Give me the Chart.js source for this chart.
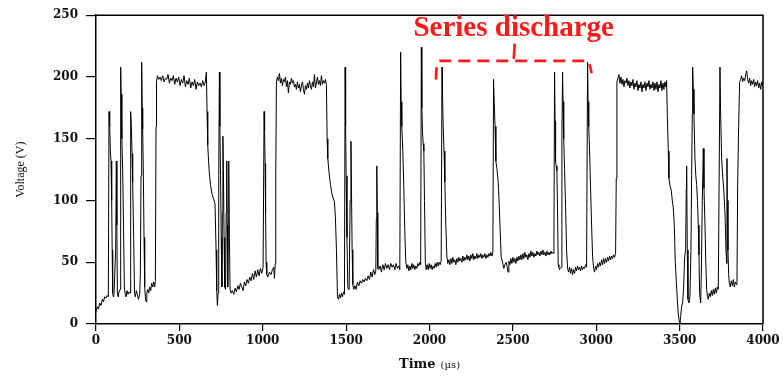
<!DOCTYPE html>
<html>
<head>
<meta charset="utf-8">
<script src="https://cdn.jsdelivr.net/npm/chart.js@4"></script>
<style>
  body { margin: 0; background: #fff; }
  canvas { display: block; }
</style>
</head>
<body>
<canvas id="trace" width="783" height="376"></canvas>
<script>
// Tick values for both axes
const timeTicks = [0, 500, 1000, 1500, 2000, 2500, 3000, 3500, 4000];
const voltTicks = [0, 50, 100, 150, 200, 250];

// Voltage trace: [time in us, voltage in V]
const samples = [
    [0,10],[8,14],[15,12],[22,17],[30,15],[38,20],[45,18],[52,22],[60,21],[68,23],[74,22],
    [78,172],[82,160],[86,140],[90,132],[94,100],[97,60],[100,25],[104,22],[108,24],
    [112,24],[118,60],[122,132],[125,80],[128,25],[133,22],[138,26],[144,28],
    [148,208],[151,186],[155,150],[160,125],[165,80],[170,30],[174,25],[180,22],[186,27],[192,24],[198,26],[204,25],
    [208,172],[212,160],[216,138],[220,115],[226,70],[231,25],[236,22],[242,27],[248,24],[255,20],[262,24],
    [266,40],[270,120],[274,212],[277,175],[280,158],[284,120],[288,70],[292,30],[296,22],[300,18],[305,25],[310,28],
    [316,25],[322,30],[328,27],[334,33],[340,30],[346,34],[352,30],[356,35],
    [360,160],[363,196],
    [368,201],[376,198],[384,200],[392,197],[400,201],[408,196],[416,199],[424,198],[432,202],[440,195],
    [448,199],[456,197],[464,201],[472,194],[480,199],[488,196],[496,200],[504,193],[512,198],[520,195],
    [528,201],[536,192],[544,197],[552,194],[560,199],[568,191],[576,196],[584,193],[592,198],[600,190],
    [608,196],[616,193],[624,195],[632,192],[640,197],[648,193],[656,196],[662,204],
    [666,172],[670,145],[678,125],[686,113],[696,105],[706,101],[714,97],[720,60],[724,27],[728,15],[732,25],
    [736,120],[740,204],[743,160],[747,120],[751,70],[755,30],[758,90],[761,152],[764,125],[768,70],[772,30],
    [777,28],[781,90],[784,132],[787,80],[790,30],[793,70],[796,132],[800,70],[804,28],[810,25],
    [818,27],[826,24],[834,29],[842,26],[850,31],[858,28],[866,33],[874,30],[882,27],[890,34],[898,31],
    [906,36],[914,33],[922,38],[930,35],[938,41],[946,36],[954,43],[962,38],[970,44],[978,39],[986,45],[994,41],[1002,46],
    [1008,172],[1011,157],[1014,130],[1017,90],[1020,50],[1024,40],[1030,38],[1040,42],[1050,40],[1058,44],[1066,46],
    [1070,37],[1075,49],[1078,120],[1082,196],
    [1088,200],[1094,197],[1100,203],[1106,195],[1112,199],[1118,193],[1124,198],[1130,196],[1136,200],[1142,192],
    [1148,197],[1154,187],[1160,196],[1166,194],[1172,199],[1178,195],[1184,197],[1190,192],[1196,194],[1202,190],
    [1208,196],[1214,191],[1220,194],[1226,188],[1232,193],[1238,196],[1244,190],[1250,186],[1256,193],[1262,190],
    [1268,195],[1274,191],[1280,197],[1286,193],[1292,190],[1298,196],[1304,192],[1310,202],[1316,191],[1322,195],
    [1328,200],[1334,194],[1340,197],[1346,193],[1352,201],[1358,194],[1364,197],[1370,195],[1376,198],[1382,193],
    [1386,150],[1390,134],[1398,122],[1406,113],[1414,106],[1422,102],[1430,99],[1436,85],[1442,60],[1448,22],
    [1454,20],[1460,24],[1466,21],[1472,25],[1478,22],[1484,26],[1490,24],
    [1494,208],[1497,160],[1500,120],[1505,70],[1510,30],[1514,28],[1518,28],[1524,100],[1529,148],[1532,110],
    [1536,60],[1540,32],[1546,28],[1552,31],[1560,28],[1568,34],[1576,31],[1584,35],[1592,33],[1600,36],
    [1608,34],[1616,37],[1624,35],[1632,39],[1640,36],[1648,42],[1656,38],[1664,44],[1672,40],[1678,43],
    [1681,85],[1684,128],[1687,90],[1690,45],[1696,44],
    [1704,47],[1712,42],[1720,48],[1728,44],[1736,49],[1744,45],[1752,48],[1760,44],[1768,49],[1776,46],
    [1784,48],[1792,44],[1800,49],[1808,45],[1816,47],[1822,44],
    [1827,220],[1830,180],[1834,160],[1840,140],[1846,110],[1852,75],[1858,50],[1864,45],[1870,48],[1876,43],
    [1882,47],[1888,44],[1894,49],[1900,45],[1906,48],[1912,44],[1918,47],[1924,45],[1930,49],[1936,47],[1942,50],[1947,48],
    [1951,224],[1954,175],[1958,156],[1962,146],[1966,140],[1970,100],[1975,50],[1980,44],[1986,48],[1992,44],
    [1998,49],[2004,45],[2010,48],[2016,44],[2022,47],[2028,45],[2034,49],[2040,46],[2046,50],[2052,47],
    [2058,50],[2064,48],[2070,51],
    [2075,208],[2078,186],[2082,160],[2087,140],[2092,115],[2098,80],[2104,55],[2110,49],
    [2116,52],[2122,48],[2128,53],[2134,49],[2140,54],[2146,50],[2152,52],[2158,48],[2164,53],[2170,50],
    [2176,54],[2182,51],[2188,53],[2194,50],[2200,55],[2206,51],[2212,54],[2218,52],[2224,56],[2230,52],
    [2236,55],[2242,51],[2248,56],[2254,53],[2260,57],[2266,52],[2272,55],[2278,53],[2284,57],[2290,53],
    [2296,56],[2302,54],[2308,57],[2314,53],[2320,56],[2326,54],[2332,57],[2338,53],[2344,56],[2350,54],
    [2356,57],[2362,55],[2368,58],[2374,55],[2380,58],
    [2384,198],[2388,180],[2393,160],[2398,132],[2404,126],[2410,118],[2414,110],[2418,97],[2424,75],[2430,54],
    [2438,50],[2446,45],[2452,48],[2460,50],[2466,46],[2471,42],[2476,51],[2482,48],[2488,53],[2494,49],
    [2500,54],[2506,50],[2512,53],[2518,49],[2524,54],[2530,51],[2536,55],[2542,52],[2548,56],[2554,52],
    [2560,57],[2566,53],[2572,58],[2578,54],[2584,56],[2590,52],[2596,57],[2602,54],[2608,59],[2614,55],
    [2620,58],[2626,54],[2632,57],[2638,55],[2644,59],[2650,56],[2656,58],[2662,55],[2668,59],[2674,56],
    [2680,60],[2686,56],[2692,58],[2698,55],[2704,59],[2710,56],[2716,58],[2722,56],[2728,59],[2734,57],
    [2740,58],[2746,57],
    [2750,204],[2753,164],[2756,132],[2760,128],[2764,124],[2768,90],[2772,48],[2776,46],[2780,44],[2784,45],
    [2790,46],[2794,150],[2798,204],[2801,180],[2805,150],[2810,125],[2816,95],[2822,60],[2828,45],[2834,42],
    [2840,46],[2846,41],[2852,45],[2858,40],[2864,44],[2870,41],[2876,46],[2882,43],[2888,47],[2894,44],
    [2900,46],[2906,43],[2912,47],[2918,44],[2924,46],[2930,45],[2936,48],[2942,46],
    [2948,212],[2951,180],[2955,160],[2960,140],[2966,110],[2972,80],[2978,55],[2984,45],[2990,42],[2996,47],
    [3002,44],[3008,49],[3014,46],[3020,50],[3026,47],[3032,52],[3038,48],[3044,53],[3050,49],[3056,53],
    [3062,50],[3068,54],[3074,51],[3080,55],[3086,52],[3092,55],[3098,53],[3104,56],[3110,54],[3116,57],
    [3120,118],[3124,196],
    [3130,199],[3136,202],[3142,195],[3148,200],[3154,194],[3160,198],[3166,192],[3172,197],[3178,195],[3184,199],
    [3190,193],[3196,197],[3202,191],[3208,196],[3214,193],[3220,198],[3226,190],[3232,195],[3238,192],[3244,197],
    [3250,189],[3256,194],[3262,191],[3268,196],[3274,188],[3280,194],[3286,191],[3292,196],[3298,189],[3304,195],
    [3310,192],[3316,197],[3322,190],[3328,194],[3334,191],[3340,196],[3346,189],[3352,195],[3358,190],[3364,196],
    [3370,188],[3376,194],[3382,191],[3388,197],[3394,189],[3400,195],[3406,190],[3412,196],[3418,192],[3422,197],
    [3426,170],[3432,140],[3436,118],[3442,112],[3450,108],[3456,100],[3462,94],[3468,80],[3474,50],[3480,35],
    [3486,20],[3492,8],[3498,2],[3502,1],[3506,6],[3512,14],[3518,17],[3524,30],[3530,54],[3536,60],
    [3540,110],[3542,128],[3546,60],[3550,20],[3556,17],[3562,22],[3568,60],[3572,120],[3576,170],[3578,208],
    [3582,190],[3586,170],[3592,134],[3597,120],[3602,113],[3607,100],[3612,80],[3616,56],[3620,25],[3626,17],
    [3630,40],[3636,100],[3642,142],[3646,110],[3652,80],[3657,50],[3662,28],[3667,22],[3672,20],[3678,25],
    [3684,22],[3690,27],[3696,23],[3702,28],[3708,24],[3714,29],[3720,25],[3726,30],[3732,28],
    [3742,208],[3746,170],[3752,134],[3758,120],[3764,110],[3772,90],[3778,60],[3782,49],[3784,134],[3786,100],
    [3790,60],[3794,40],[3798,33],[3804,30],[3810,35],[3816,31],[3822,36],[3828,30],[3834,34],[3840,32],[3844,35],
    [3848,113],[3854,160],[3860,196],
    [3866,198],[3872,201],[3878,196],[3884,199],[3890,197],[3896,202],[3902,205],[3908,198],[3914,195],[3920,199],
    [3926,193],[3932,197],[3938,194],[3944,198],[3950,192],[3956,196],[3962,193],[3968,197],[3974,191],[3980,195],
    [3986,190],[3992,196],[4000,192]
];

// Dashed bracket over the series discharge part: start, middle, end (us) and levels (V)
const bracketTimes = [2045, 2505, 2960];
const bracketVolts = { level: 213, leftEnd: 198, rightEnd: 203, top: 227 };
const annotationText = 'Series discharge';
const xTitle = ['Time', '(\u00b5s)'];
const yTitle = 'Voltage (V)';

const points = samples.map(s => ({ x: s[0], y: s[1] }));

// draws the box, axis titles and the red bracket with its label
const extras = {
    id: 'extras',
    afterDraw(chart) {
        const ctx = chart.ctx;
        const area = chart.chartArea;
        const xs = chart.scales.x;
        const ys = chart.scales.y;

        ctx.save();
        ctx.strokeStyle = '#000';
        ctx.lineWidth = 1.5;
        ctx.beginPath();
        ctx.moveTo(area.left, area.top);
        ctx.lineTo(area.right, area.top);
        ctx.lineTo(area.right, area.bottom);
        ctx.stroke();

        // x title, two sizes like the original
        ctx.fillStyle = '#111';
        ctx.textBaseline = 'alphabetic';
        ctx.font = 'bold 13px "DejaVu Serif"';
        const w1 = ctx.measureText(xTitle[0]).width;
        ctx.font = '10px "DejaVu Serif"';
        const w2 = ctx.measureText(xTitle[1]).width;
        const startX = (area.left + area.right) / 2 - (w1 + 5 + w2) / 2;
        ctx.font = 'bold 13px "DejaVu Serif"';
        ctx.fillText(xTitle[0], startX, 368);
        ctx.font = '10px "DejaVu Serif"';
        ctx.fillText(xTitle[1], startX + w1 + 5, 368);

        // y title
        ctx.translate(24, (area.top + area.bottom) / 2);
        ctx.rotate(-Math.PI / 2);
        ctx.textAlign = 'center';
        ctx.font = '12px "Liberation Serif"';
        ctx.fillText(yTitle, 0, 0);
        ctx.restore();

        // red bracket
        const xl = xs.getPixelForValue(bracketTimes[0]);
        const xm = xs.getPixelForValue(bracketTimes[1]);
        const xr = xs.getPixelForValue(bracketTimes[2]);
        const yLevel = ys.getPixelForValue(bracketVolts.level);
        ctx.save();
        ctx.strokeStyle = '#ff1a1a';
        ctx.lineWidth = 2.6;
        ctx.setLineDash([12, 7]);
        ctx.beginPath();
        ctx.moveTo(xl - 1, ys.getPixelForValue(bracketVolts.leftEnd));
        ctx.quadraticCurveTo(xl - 1, yLevel, xl + 3, yLevel);
        ctx.lineTo(xr - 3, yLevel);
        ctx.quadraticCurveTo(xr, yLevel, xr + 2, ys.getPixelForValue(bracketVolts.rightEnd));
        ctx.stroke();
        ctx.setLineDash([]);
        ctx.beginPath();
        ctx.moveTo(xm, yLevel - 2);
        ctx.lineTo(xm + 1, ys.getPixelForValue(bracketVolts.top));
        ctx.stroke();

        ctx.fillStyle = '#ff1a1a';
        ctx.textAlign = 'center';
        ctx.font = 'bold 29px "Liberation Serif"';
        ctx.fillText(annotationText, xm, 36);
        ctx.restore();
    }
};

const tickFont = { family: 'DejaVu Serif', size: 12, weight: 'bold' };

new Chart(document.getElementById('trace'), {
    type: 'line',
    data: {
        datasets: [{
            data: points,
            borderColor: '#000',
            borderWidth: 1,
            pointRadius: 0,
            tension: 0,
            fill: false
        }]
    },
    options: {
        responsive: false,
        animation: false,
        events: [],
        layout: { padding: { top: 13, right: 20, left: 0, bottom: 0 } },
        plugins: { legend: { display: false }, tooltip: { enabled: false } },
        scales: {
            x: {
                type: 'linear',
                min: timeTicks[0],
                max: timeTicks[timeTicks.length - 1],
                afterBuildTicks: s => { s.ticks = timeTicks.map(v => ({ value: v })); },
                ticks: { font: tickFont, color: '#111', padding: 3, maxRotation: 0, callback: v => String(v) },
                grid: { drawOnChartArea: false, tickLength: 7, color: '#000', lineWidth: 1.2 },
                border: { color: '#000', width: 1.5 },
                afterFit: s => { s.height = 52; }
            },
            y: {
                min: voltTicks[0],
                max: voltTicks[voltTicks.length - 1],
                afterBuildTicks: s => { s.ticks = voltTicks.map(v => ({ value: v })); },
                ticks: { font: tickFont, color: '#111', padding: 8, callback: v => String(v) },
                grid: { drawOnChartArea: false, tickLength: 10, color: '#000', lineWidth: 1.2 },
                border: { color: '#000', width: 1.5 },
                afterFit: s => { s.width = 96; }
            }
        }
    },
    plugins: [extras]
});
</script>
</body>
</html>
